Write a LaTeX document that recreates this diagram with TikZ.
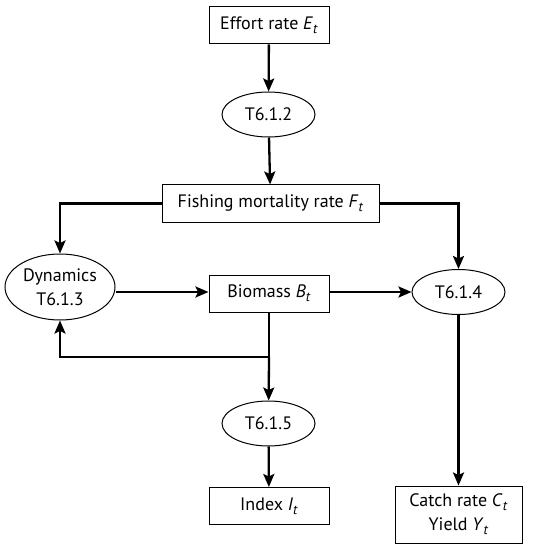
\documentclass[tikz,border=0pt]{standalone}
\usepackage{fontspec}
\setmainfont{PT Sans}
\usetikzlibrary{arrows.meta,shapes.geometric}

\newcommand{\sub}[2]{\textit{#1}\raisebox{-0.45ex}{\fontsize{13.5}{13.5}\selectfont\textit{#2}}}

\begin{document}
\begin{tikzpicture}[x=1pt,y=-1pt,
    font=\fontsize{18}{22}\selectfont,
    box/.style={draw,line width=1pt,minimum width=120pt,minimum height=37pt,inner sep=2pt},
    oval/.style={draw,ellipse,line width=1pt,minimum width=93pt,minimum height=45pt,inner sep=0pt},
    flow/.style={line width=2.3pt,-{Stealth[length=13pt,width=11pt,inset=2.5pt]}},
    line/.style={line width=2.3pt}]
    \useasboundingbox (0,0) rectangle (538,545);

    \node [box] (effort) at (269,25.5) {Effort rate \sub{E}{t}};
    \node [oval] (t612) at (268.5,114.5) {T6.1.2};
    \node [box,minimum width=217pt] (fishing) at (270.5,203.5) {Fishing mortality rate \sub{F}{t}};

    \node [oval,minimum width=110pt,minimum height=66pt,align=center] (dyn) at (60,287) {Dynamics\\[2pt]T6.1.3};
    \node [box] (biomass) at (269,293.5) {Biomass \sub{B}{t}};
    \node [oval] (t614) at (458.5,292) {T6.1.4};

    \coordinate (split) at (269,357);
    \node [oval] (t615) at (268.5,423.5) {T6.1.5};
    \node [box] (index) at (269,506) {Index \sub{I}{t}};
    \node [box,minimum width=127pt,minimum height=57pt,align=center] (catch) at (458.5,514.5) {Catch rate \sub{C}{t}\\[2pt]Yield \sub{Y}{t}};

    \draw [flow] (effort) -- (t612);
    \draw [flow] (t612) -- (fishing);
    \draw [flow] (fishing.west) -| (dyn.north);
    \draw [flow] (fishing.east) -| (t614.north);
    \draw [flow] (dyn.east |- 0,292) -- (biomass.west |- 0,292);
    \draw [flow] (biomass.east |- 0,292) -- (t614.west);
    \draw [line] (biomass.south) -- (split);
    \draw [flow] (split) -| (dyn.south);
    \draw [flow] (split) -- (t615);
    \draw [flow] (t615) -- (index);
    \draw [flow] (t614) -- (catch);
\end{tikzpicture}
\end{document}
